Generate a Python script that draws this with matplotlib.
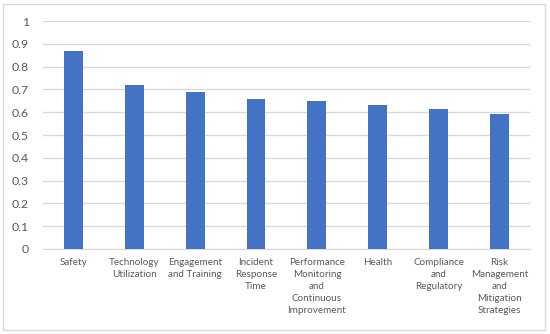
import matplotlib
matplotlib.use("Agg")
import matplotlib.pyplot as plt
from matplotlib.patches import Rectangle

categories = ["Safety", "Technology\nUtilization", "Engagement\nand Training",
              "Incident\nResponse\nTime", "Performance\nMonitoring\nand\nContinuous\nImprovement",
              "Health", "Compliance\nand\nRegulatory",
              "Risk\nManagement\nand\nMitigation\nStrategies"]
values = [0.87, 0.72, 0.69, 0.657, 0.647, 0.633, 0.613, 0.592]
yticks = [0, 0.1, 0.2, 0.3, 0.4, 0.5, 0.6, 0.7, 0.8, 0.9, 1]
yticklabels = ["0", "0.1", "0.2", "0.3", "0.4", "0.5", "0.6", "0.7", "0.8", "0.9", "1"]

plt.rcParams['font.family'] = ['Lato', 'DejaVu Sans']

fig = plt.figure(figsize=(5.5, 3.34), dpi=100)
ax = fig.add_axes([0.0782, 0.2545, 0.8854, 0.6826])
x = list(range(len(categories)))
ax.bar(x, values, width=0.31, color="#4472C4", zorder=3)
ax.set_xlim(-0.5, len(categories) - 0.5)
ax.set_ylim(0, 1)
ax.set_yticks(yticks)
ax.set_yticklabels(yticklabels, fontsize=8.8, color="#595959")
ax.set_xticks(x)
ax.set_xticklabels(categories, fontsize=7.1, color="#595959", linespacing=1.42, va="top")
ax.tick_params(axis="both", length=0)
ax.tick_params(axis="y", pad=10)
ax.tick_params(axis="x", pad=6.5)
ax.grid(axis="y", color="#D9D9D9", linewidth=1, zorder=0)
for s in ["top", "right", "left"]:
    ax.spines[s].set_visible(False)
ax.spines["bottom"].set_color("#D9D9D9")

fig.patches.append(Rectangle((3/550, 1-330/334), 542/550, 326/334, transform=fig.transFigure,
                             fill=False, edgecolor="#D9D9D9", linewidth=1))
fig.savefig("out.png", dpi=100)
